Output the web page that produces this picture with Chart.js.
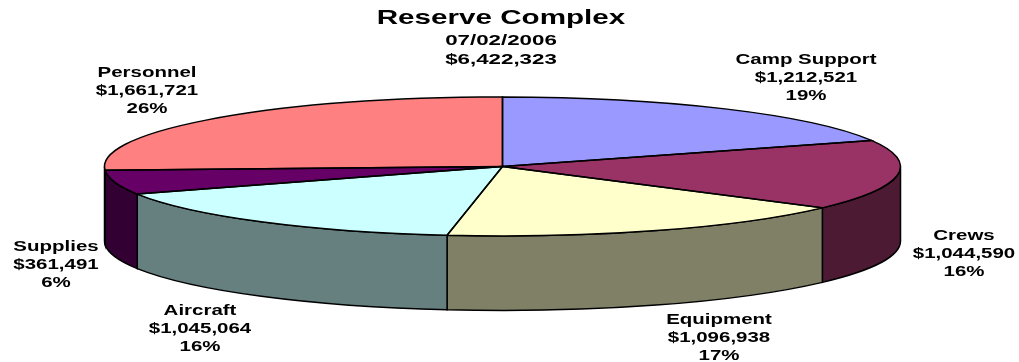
<!DOCTYPE html>
<html>
<head>
<meta charset="utf-8">
<title>Reserve Complex</title>
<script src="https://cdn.jsdelivr.net/npm/chart.js@4/dist/chart.umd.min.js"></script>
<style>
  html, body { margin: 0; padding: 0; background: #fff; }
  canvas { display: block; }
</style>
</head>
<body>
<canvas id="pie" width="1019" height="362"></canvas>
<script>
// slices, clockwise from 12 o'clock
const categories = ['Camp Support', 'Crews', 'Equipment', 'Aircraft', 'Supplies', 'Personnel'];
const amounts = [1212521, 1044590, 1096938, 1045064, 361491, 1661721];
const titleText = 'Reserve Complex';
const dateText = '07/02/2006';
const totalText = '$6,422,323';

const topColors = ['#9999ff', '#993366', '#ffffcc', '#ccffff', '#660066', '#ff8080'];
const wallColors = ['#4d4d80', '#4d1a33', '#808066', '#668080', '#330033', '#804040'];

// label centres, first line
const labelSpots = [[806, 59.5], [964, 235.5], [719, 319.5], [200, 310.5], [56, 246.5], [147, 72.5]];

const RX = 398, RY = 69.5, DEPTH = 74.5, LINE_H = 18.3;
const squash = RY / RX;
const total = amounts.reduce((a, b) => a + b, 0);

const money = (n) => '$' + n.toLocaleString('en-US');
const pct = (n) => Math.round(n / total * 100) + '%';

// Text in this chart is wider than the font's natural shape
function wideText(ctx, str, x, y, size, stretch){
  ctx.save();
  ctx.translate(x, y);
  ctx.scale(stretch, 1);
  ctx.font = `bold ${size}px "Liberation Sans", Arial, sans-serif`;
  ctx.textAlign = 'center';
  ctx.textBaseline = 'middle';
  ctx.fillStyle = '#000';
  ctx.fillText(str, 0, 0);
  ctx.restore();
}

const tiltedPie = {
  id: 'tiltedPie',
  beforeDatasetsDraw(chart){
    const ctx = chart.ctx;
    const arcs = chart.getDatasetMeta(0).data;
    // side walls, only the front half of the rim shows
    arcs.forEach((arc, i) => {
      const s = Math.max(arc.startAngle, 0);
      const e = Math.min(arc.endAngle, Math.PI);
      if (e <= s) return;
      ctx.beginPath();
      ctx.ellipse(arc.x, arc.y, RX, RY, 0, s, e);
      ctx.ellipse(arc.x, arc.y + DEPTH, RX, RY, 0, e, s, true);
      ctx.closePath();
      ctx.fillStyle = wallColors[i];
      ctx.fill();
      ctx.lineWidth = 1.5;
      ctx.strokeStyle = '#000';
      ctx.stroke();
    });
    // flatten the top face that Chart.js draws next
    const cy = arcs[0].y;
    ctx.save();
    ctx.translate(0, cy);
    ctx.scale(1, squash);
    ctx.translate(0, -cy);
  },
  afterDatasetsDraw(chart){
    const ctx = chart.ctx;
    ctx.restore();
    // outlines after the restore so the pen width stays even
    chart.getDatasetMeta(0).data.forEach((arc) => {
      ctx.beginPath();
      ctx.moveTo(arc.x, arc.y);
      ctx.ellipse(arc.x, arc.y, RX, RY, 0, arc.startAngle, arc.endAngle);
      ctx.closePath();
      ctx.lineWidth = 1.5;
      ctx.strokeStyle = '#000';
      ctx.stroke();
    });
  },
  afterDraw(chart){
    const ctx = chart.ctx;
    wideText(ctx, titleText, 501, 18.5, 21, 1.41);
    wideText(ctx, dateText, 501, 40.5, 15.5, 1.44);
    wideText(ctx, totalText, 501, 59.5, 15.5, 1.44);
    categories.forEach((name, i) => {
      const [x, y] = labelSpots[i];
      wideText(ctx, name, x, y, 15.5, 1.32);
      wideText(ctx, money(amounts[i]), x, y + LINE_H, 15.5, 1.32);
      wideText(ctx, pct(amounts[i]), x, y + LINE_H * 2, 15.5, 1.32);
    });
  }
};

new Chart(document.getElementById('pie'), {
  type: 'pie',
  data: {
    labels: categories,
    datasets: [{
      data: amounts,
      backgroundColor: topColors,
      borderWidth: 0,
      clip: false
    }]
  },
  options: {
    responsive: false,
    animation: false,
    radius: RX,
    layout: { padding: { left: 0, right: 14, top: 0, bottom: 29 } },
    plugins: { legend: { display: false }, title: { display: false }, tooltip: { enabled: false } }
  },
  plugins: [tiltedPie]
});
</script>
</body>
</html>
